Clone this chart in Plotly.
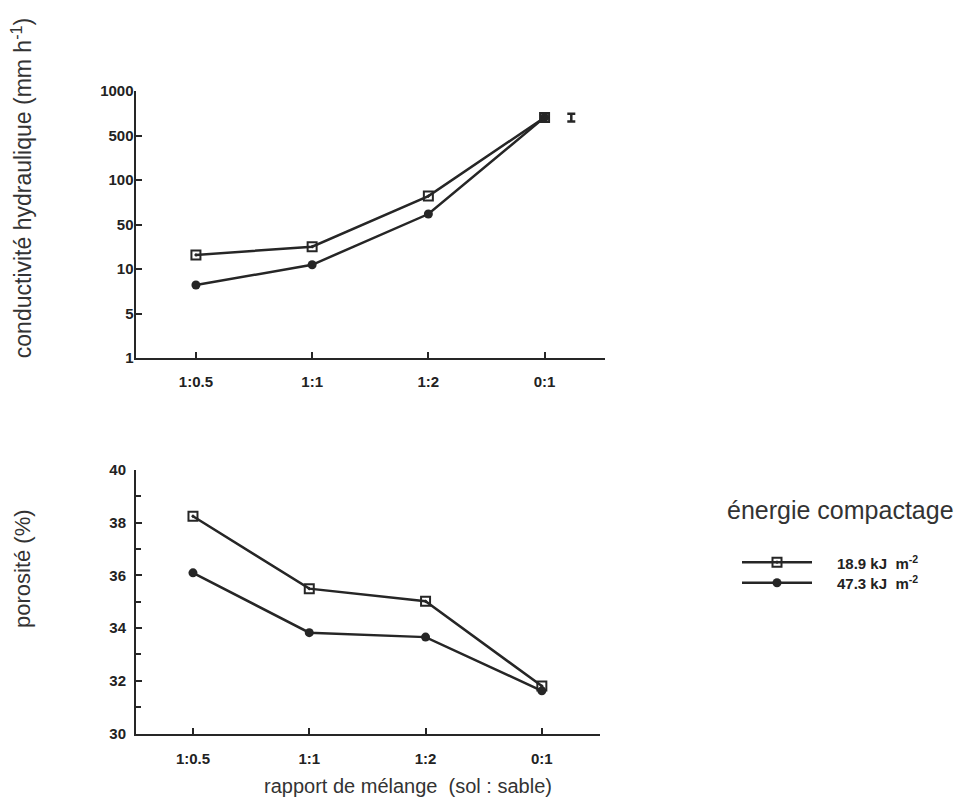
import numpy as np
import plotly.graph_objects as go

# ---------------- data ----------------
categories = ["1:0.5", "1:1", "1:2", "0:1"]
series_names = ["18.9 kJ  m<sup>-2</sup>", "47.3 kJ  m<sup>-2</sup>"]

# hydraulic conductivity (mm h-1)
k_low = [16.7, 22.5, 78.0, 665.0]      # 18.9 kJ m-2
k_high = [7.8, 11.7, 59.0, 665.0]      # 47.3 kJ m-2

# porosity (%)
por_low = [38.25, 35.5, 35.02, 31.80]   # 18.9 kJ m-2
por_high = [36.1, 33.83, 33.66, 31.62]  # 47.3 kJ m-2

# standard error bars drawn beside the last category
k_se_center, k_se_lo, k_se_hi = 665.0, 625.0, 705.0
por_se_center, por_se = 31.63, 0.17

# irregular y scale of the top chart (equally spaced tick labels)
k_ticks = [1, 5, 10, 50, 100, 500, 1000]
k_tick_text = ["1", "5", "10", "50", "100", "500", "1000"]
por_ticks = [30, 32, 34, 36, 38, 40]


def kpos(v):
    return np.interp(np.log10(np.asarray(v, dtype=float)),
                     np.log10(k_ticks), np.arange(len(k_ticks)))


xi = list(range(len(categories)))
LINE = "#262626"
TICKFONT = dict(family="Liberation Sans, Arial, sans-serif", size=15, color="#222",
                weight="bold")
TITLEFONT = dict(family="Liberation Sans, Arial, sans-serif", size=22, color="#333")

MARK = {
    0: dict(symbol="square-open-dot", size=9, color=LINE, line=dict(width=2, color=LINE)),
    1: dict(symbol="circle", size=9, color=LINE),
}

fig = go.Figure()

# ---- top: conductivity ----
fig.add_trace(go.Scatter(x=xi, y=kpos(k_high), mode="lines+markers", name=series_names[1],
                         line=dict(color=LINE, width=2.5), marker=MARK[1],
                         xaxis="x", yaxis="y", showlegend=False, cliponaxis=False))
fig.add_trace(go.Scatter(x=xi, y=kpos(k_low), mode="lines+markers", name=series_names[0],
                         line=dict(color=LINE, width=2.5), marker=MARK[0],
                         xaxis="x", yaxis="y", showlegend=False, cliponaxis=False))
kc = float(kpos(k_se_center))
fig.add_trace(go.Scatter(x=[3.23], y=[kc], mode="markers",
                         marker=dict(size=1, color="rgba(0,0,0,0)"),
                         error_y=dict(type="data", symmetric=False,
                                      array=[float(kpos(k_se_hi)) - kc],
                                      arrayminus=[kc - float(kpos(k_se_lo))],
                                      color=LINE, thickness=2.5, width=4),
                         xaxis="x", yaxis="y", showlegend=False, cliponaxis=False,
                         hoverinfo="skip"))

# ---- bottom: porosity ----
fig.add_trace(go.Scatter(x=xi, y=por_low, mode="lines+markers", name=series_names[0],
                         line=dict(color=LINE, width=2.5), marker=MARK[0],
                         xaxis="x2", yaxis="y2", showlegend=False, cliponaxis=False))
fig.add_trace(go.Scatter(x=xi, y=por_high, mode="lines+markers", name=series_names[1],
                         line=dict(color=LINE, width=2.5), marker=MARK[1],
                         xaxis="x2", yaxis="y2", showlegend=False, cliponaxis=False))
fig.add_trace(go.Scatter(x=[3.54], y=[por_se_center], mode="markers",
                         marker=dict(size=1, color="rgba(0,0,0,0)"),
                         error_y=dict(type="data", array=[por_se], color=LINE,
                                      thickness=2.5, width=4),
                         xaxis="x2", yaxis="y2", showlegend=False, cliponaxis=False,
                         hoverinfo="skip"))

# ---- legend key (drawn on its own hidden axes) ----
legend_rows = [1, 0]
for i, row in enumerate(legend_rows):
    fig.add_trace(go.Scatter(x=[0, 1], y=[row, row], mode="lines",
                             line=dict(color=LINE, width=2.5),
                             xaxis="x3", yaxis="y3", showlegend=False, hoverinfo="skip"))
    fig.add_trace(go.Scatter(x=[0.5], y=[row], mode="markers", marker=MARK[i],
                             xaxis="x3", yaxis="y3", showlegend=False, hoverinfo="skip"))

W, H = 965, 812
axis_common = dict(showgrid=False, zeroline=False, showline=True, linecolor=LINE,
                   linewidth=2, ticks="inside", ticklen=6, tickwidth=2, tickcolor=LINE,
                   tickfont=TICKFONT)
hidden = dict(visible=False, showgrid=False, zeroline=False)

fig.update_layout(
    width=W, height=H,
    margin=dict(l=0, r=0, t=0, b=0),
    paper_bgcolor="white", plot_bgcolor="white",
    font=dict(family="Liberation Sans, Arial, sans-serif", color="#333"),
    showlegend=False,
    xaxis=dict(**axis_common, domain=[135.5 / W, 605 / W], range=[-0.52, 3.52],
               tickvals=xi, ticktext=categories, anchor="y", ticklabelstandoff=9),
    yaxis=dict(**axis_common, domain=[1 - 356.5 / H, 1 - 84 / H], range=[0, 6],
               tickvals=list(range(len(k_ticks))), ticktext=k_tick_text, anchor="x",
               ticklabelstandoff=-3),
    xaxis2=dict(**axis_common, domain=[136 / W, 600 / W], range=[-0.49, 3.50],
                tickvals=xi, ticktext=categories, anchor="y2", ticklabelstandoff=10),
    yaxis2=dict(**axis_common, domain=[1 - 740 / H, 1 - 471 / H], range=[30, 40],
                tickvals=por_ticks, anchor="x2", ticklabelstandoff=5,
                minor=dict(dtick=1, ticks="inside", ticklen=5, tickwidth=2,
                           tickcolor=LINE)),
    xaxis3=dict(**hidden, domain=[742 / W, 812 / W], range=[0, 1], anchor="y3"),
    yaxis3=dict(**hidden, domain=[1 - 596.5 / H, 1 - 554.5 / H], range=[-0.5, 1.5],
                anchor="x3"),
)

LEGFONT = dict(family="Liberation Sans, Arial, sans-serif", size=15, color="#222",
               weight="bold")
annotations = [
    dict(text="conductivité hydraulique (mm h<sup>-1</sup>)", x=22 / W, y=1 - 183 / H,
         xref="paper", yref="paper", textangle=-90, showarrow=False,
         font=dict(TITLEFONT, size=23), xanchor="center", yanchor="middle"),
    dict(text="porosité (%)", x=22 / W, y=1 - 572 / H,
         xref="paper", yref="paper", textangle=-90, showarrow=False, font=TITLEFONT,
         xanchor="center", yanchor="middle"),
    dict(text="rapport de mélange  (sol : sable)", x=408 / W, y=1 - 794 / H,
         xref="paper", yref="paper", showarrow=False, font=dict(TITLEFONT, size=20),
         xanchor="center", yanchor="middle"),
    dict(text="énergie compactage", x=840 / W, y=1 - 512 / H,
         xref="paper", yref="paper", showarrow=False, font=dict(TITLEFONT, size=25),
         xanchor="center", yanchor="middle"),
]
for i, row in enumerate(legend_rows):
    annotations.append(dict(text=series_names[i], x=835 / W, xref="paper",
                            y=row, yref="y3", showarrow=False, font=LEGFONT,
                            xanchor="left", yanchor="middle"))
fig.update_layout(annotations=annotations)

fig.write_html("out.html")
